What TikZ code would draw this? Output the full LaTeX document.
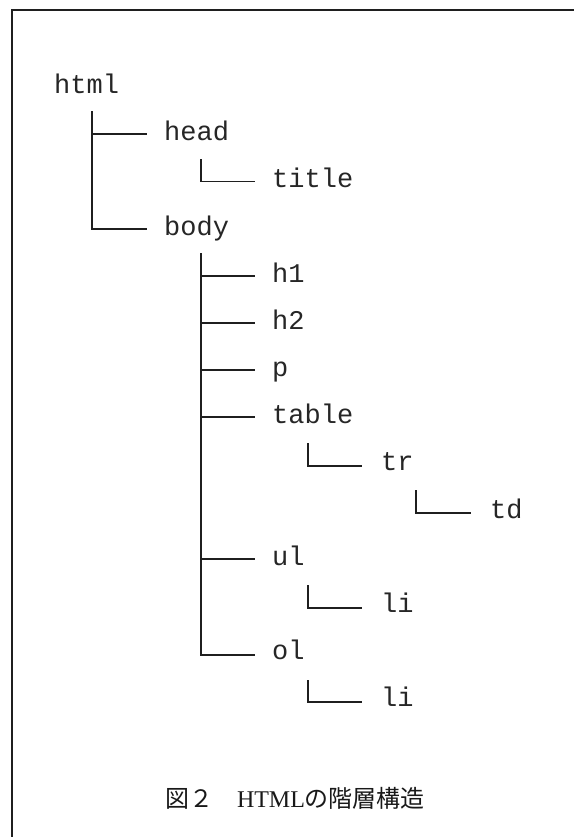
\documentclass[tikz,border=0pt]{standalone}
\usepackage{fontspec}
\setmainfont{Liberation Serif}
\setmonofont{Liberation Mono}
\newfontfamily\cjk{Noto Sans CJK JP}
\begin{document}
\begin{tikzpicture}[x=1bp,y=-1bp,
  tag/.style={anchor=base west, inner sep=0pt, font=\ttfamily\fontsize{27bp}{30bp}\selectfont, text=black!85},
  link/.style={line width=1.6bp, draw=black!88},
  frameline/.style={line width=1.7bp, draw=black!88},
  captext/.style={anchor=base, inner sep=0pt, font=\fontsize{24bp}{28bp}\selectfont, text=black!90}]
\useasboundingbox (0,0) rectangle (574,837);
\draw[frameline] (574,10) -- (12,10) -- (12,837);
\node[tag] (html) at (54,93) {html};
\node[tag] (head) at (164,140) {head};
\node[tag] (title) at (272,187.5) {title};
\node[tag] (body) at (164,235) {body};
\node[tag] (h1) at (272,282) {h1};
\node[tag] (h2) at (272,329) {h2};
\node[tag] (p) at (272,376) {p};
\node[tag] (table) at (272,423) {table};
\node[tag] (tr) at (381,470) {tr};
\node[tag] (td) at (490,518) {td};
\node[tag] (ul) at (272,565) {ul};
\node[tag] (li1) at (381,612) {li};
\node[tag] (ol) at (272,659) {ol};
\node[tag] (li2) at (381,706) {li};
% connectors
\draw[link] ([xshift=38bp,yshift=-18bp]html.base west) |- ([xshift=-17bp,yshift=6bp]head.base west);
\draw[link] ([xshift=38bp,yshift=-18bp]html.base west) |- ([xshift=-17bp,yshift=6bp]body.base west);
\draw[link] ([xshift=37bp,yshift=-19bp]head.base west) |- ([xshift=-17bp,yshift=6bp]title.base west);
\draw[link] ([xshift=37bp,yshift=-18bp]body.base west) |- ([xshift=-17bp,yshift=6bp]h1.base west);
\draw[link] ([xshift=37bp,yshift=-18bp]body.base west) |- ([xshift=-17bp,yshift=6bp]h2.base west);
\draw[link] ([xshift=37bp,yshift=-18bp]body.base west) |- ([xshift=-17bp,yshift=6bp]p.base west);
\draw[link] ([xshift=37bp,yshift=-18bp]body.base west) |- ([xshift=-17bp,yshift=6bp]table.base west);
\draw[link] ([xshift=37bp,yshift=-18bp]body.base west) |- ([xshift=-17bp,yshift=6bp]ul.base west);
\draw[link] ([xshift=37bp,yshift=-18bp]body.base west) |- ([xshift=-17bp,yshift=4bp]ol.base west);
\draw[link] ([xshift=36bp,yshift=-20bp]table.base west) |- ([xshift=-19bp,yshift=4bp]tr.base west);
\draw[link] ([xshift=35bp,yshift=-20bp]tr.base west) |- ([xshift=-19bp,yshift=5bp]td.base west);
\draw[link] ([xshift=36bp,yshift=-20bp]ul.base west) |- ([xshift=-19bp,yshift=4bp]li1.base west);
\draw[link] ([xshift=36bp,yshift=-21bp]ol.base west) |- ([xshift=-19bp,yshift=4bp]li2.base west);
% caption
\node[captext] (cap) at (295,807) {{\cjk 図２　}HTML{\cjk の階層構造}};
\end{tikzpicture}
\end{document}
